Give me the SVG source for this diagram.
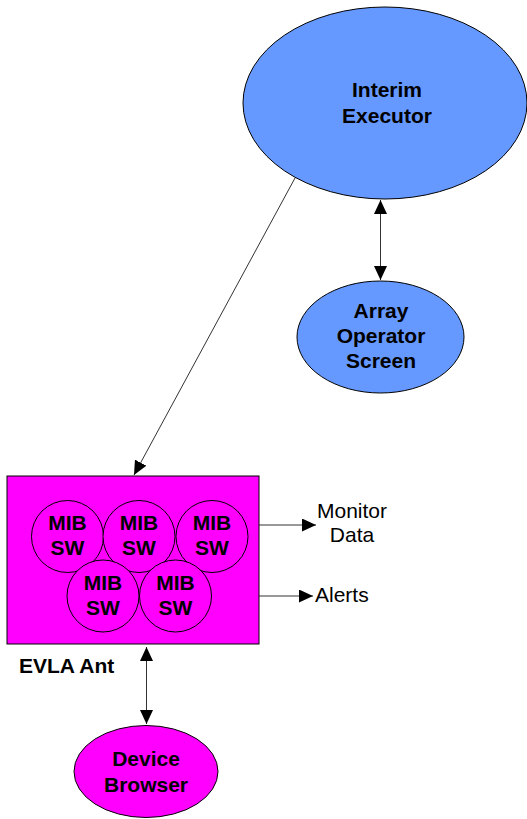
<svg xmlns="http://www.w3.org/2000/svg" width="527" height="819" viewBox="0 0 527 819">
<defs>
<marker id="ah" viewBox="0 0 14 13" refX="14" refY="6.5" markerWidth="14" markerHeight="13" markerUnits="userSpaceOnUse" orient="auto-start-reverse">
<path d="M0,0 L14,6.5 L0,13 Z" fill="#000"/>
</marker>
</defs>
<style>
.blue{fill:#6699FF;stroke:#000;stroke-width:1}
.mag{fill:#FF00FF;stroke:#000;stroke-width:1}
.b{font-family:"Liberation Sans",Arial,sans-serif;font-weight:bold;font-size:21px;text-anchor:middle;fill:#000}
.r{font-family:"Liberation Sans",Arial,sans-serif;font-size:21px;fill:#000}
.c{fill:none;stroke:#333;stroke-width:1}
</style>
<rect width="527" height="819" fill="#fff"/>
<g id="interim-executor">
<ellipse class="blue" cx="385" cy="103" rx="142" ry="96"/>
<text class="b" x="387" y="97">Interim</text>
<text class="b" x="387" y="123">Executor</text>
</g>
<g id="array-operator-screen">
<ellipse class="blue" cx="380.5" cy="337" rx="83.5" ry="56"/>
<text class="b" x="381" y="318">Array</text>
<text class="b" x="381" y="343">Operator</text>
<text class="b" x="381" y="368">Screen</text>
</g>
<g id="evla-ant">
<rect class="mag" x="7" y="476" width="252" height="168"/>
<circle class="mag" cx="67.5" cy="536.5" r="36"/>
<circle class="mag" cx="139" cy="536.5" r="36"/>
<circle class="mag" cx="212" cy="536.5" r="36"/>
<circle class="mag" cx="103" cy="596" r="36"/>
<circle class="mag" cx="175.5" cy="596" r="36"/>
<text class="b" x="67.5" y="530">MIB</text><text class="b" x="67.5" y="555">SW</text>
<text class="b" x="139" y="530">MIB</text><text class="b" x="139" y="555">SW</text>
<text class="b" x="212" y="530">MIB</text><text class="b" x="212" y="555">SW</text>
<text class="b" x="103" y="590">MIB</text><text class="b" x="103" y="615">SW</text>
<text class="b" x="175.5" y="590">MIB</text><text class="b" x="175.5" y="615">SW</text>
<text class="b" x="19" y="673" style="text-anchor:start">EVLA Ant</text>
</g>
<g id="device-browser">
<ellipse class="mag" cx="146" cy="771.5" rx="72" ry="46"/>
<text class="b" x="146" y="766">Device</text>
<text class="b" x="146" y="792">Browser</text>
</g>
<g id="labels">
<text class="r" x="352" y="518" text-anchor="middle">Monitor</text>
<text class="r" x="352" y="542" text-anchor="middle">Data</text>
<text class="r" x="315" y="602">Alerts</text>
</g>
<g id="connectors">
<line class="c" x1="295" y1="178" x2="134" y2="475" marker-end="url(#ah)"/>
<line class="c" x1="380.5" y1="200" x2="380.5" y2="280" marker-start="url(#ah)" marker-end="url(#ah)"/>
<line class="c" x1="146.5" y1="647" x2="146.5" y2="724" marker-start="url(#ah)" marker-end="url(#ah)"/>
<line class="c" x1="259" y1="525" x2="316" y2="525" marker-end="url(#ah)"/>
<line class="c" x1="259" y1="596" x2="313" y2="596" marker-end="url(#ah)"/>
</g>
</svg>
